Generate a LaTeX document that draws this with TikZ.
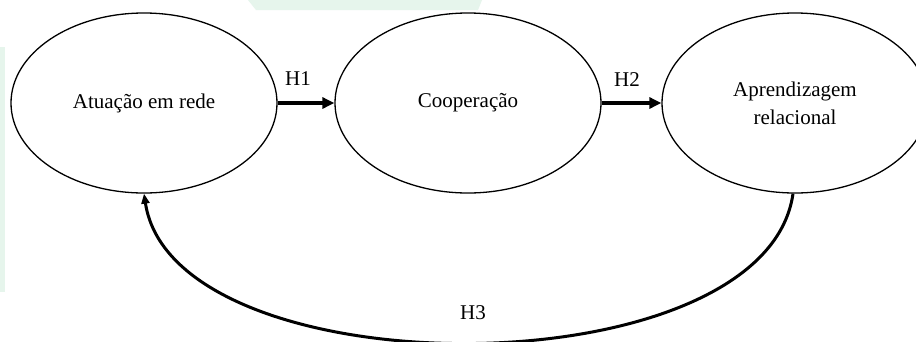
\documentclass[tikz,border=0pt]{standalone}
\usepackage{fontspec}
\setmainfont{Liberation Serif}
\usetikzlibrary{arrows.meta,shapes.geometric}
\definecolor{wm}{HTML}{E6F5EC}
\tikzset{
  bubble/.style={draw=black, line width=1.3pt, ellipse, minimum width=266pt, minimum height=180pt, inner sep=0pt, align=center, font=\fontsize{21}{28}\selectfont},
  lab/.style={font=\fontsize{21}{25}\selectfont, inner sep=0pt},
  link/.style={line width=3.2pt, -{Triangle[length=12pt,width=11pt]}},
}
\begin{document}
\begin{tikzpicture}[x=1pt,y=-1pt]
\clip (0,0) rectangle (916,341);
\fill[white] (0,0) rectangle (916,341);
\fill[wm] (248,0) -- (482,0) -- (478,10) -- (256,10) -- cycle;
\fill[wm] (0,47) rectangle (5,292);
\node[bubble] (a) at (144,103) {Atuação em rede};
\node[bubble] (b) at (468,103) {Cooperação};
\node[bubble] (c) at (795,103) {Aprendizagem\\relacional};
\draw[link] (a.east) -- (b.west);
\draw[link] (b.east) -- (c.west);
\node[lab] (h1) at (298,79) {H1};
\node[lab] (h2) at (627,80) {H2};
\node[lab] (h3) at (473,313) {H3};
\draw[line width=3pt, -{Triangle[length=10pt,width=8pt]}] ([xshift=-2pt]c.south) .. controls (765,392) and (174,392) .. (a.south);
\end{tikzpicture}
\end{document}
